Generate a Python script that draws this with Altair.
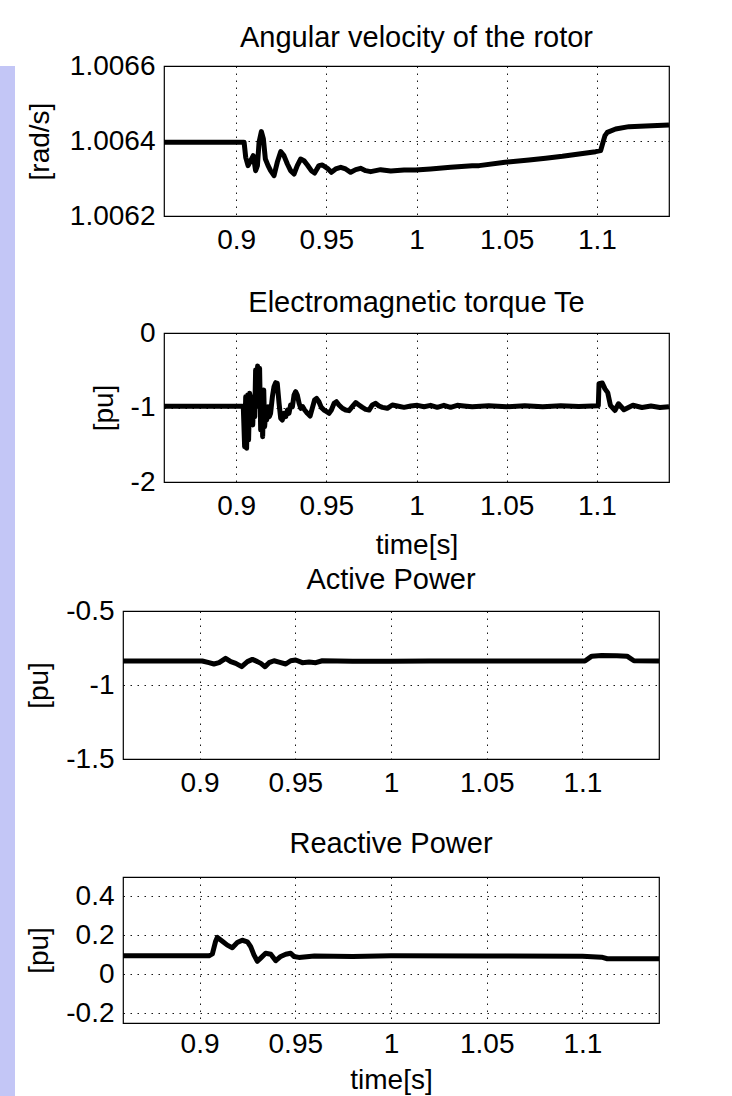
import altair as alt
import pandas as pd

FONT = "Liberation Sans"
LAVENDER = "#c3c6f6"

# ---- shared x axis ----
x_ticks = [0.9, 0.95, 1.0, 1.05, 1.1]
x_domain = [0.86, 1.14]

# ---- Panel 1: angular velocity of the rotor ----
omega_t = [0.86, 0.9044, 0.9053, 0.9066, 0.9081, 0.9095, 0.9108, 0.9118, 0.9127, 0.9140,
           0.9151, 0.9162, 0.9177, 0.9191, 0.9210, 0.9228, 0.9247, 0.9265, 0.9284, 0.9302,
           0.9321, 0.9339, 0.9358, 0.9376, 0.9395, 0.9417, 0.9435, 0.9459, 0.9478, 0.9506,
           0.9528, 0.9552, 0.9580, 0.9607, 0.9635, 0.9663, 0.9690, 0.9718, 0.9746, 0.9801,
           0.9857, 0.9931, 0.9995, 1.0078, 1.0189, 1.0309, 1.0347, 1.0491, 1.0624, 1.0716,
           1.0809, 1.0901, 1.0993, 1.1021, 1.1034, 1.1045, 1.1058, 1.1104, 1.1178, 1.1271, 1.14]
omega_v = [1.006397, 1.006397, 1.0063565, 1.0063343, 1.0063476, 1.0063609, 1.0063209, 1.0063343,
           1.0063965, 1.0064249, 1.0064054, 1.006352, 1.0063343, 1.0063209, 1.0063076, 1.0063431,
           1.0063716, 1.0063609, 1.0063387, 1.0063209, 1.006312, 1.0063343, 1.006352, 1.0063476,
           1.006336, 1.0063209, 1.0063147, 1.0063343, 1.006336, 1.0063271, 1.0063165, 1.0063254,
           1.0063298, 1.0063254, 1.0063165, 1.0063236, 1.0063271, 1.0063209, 1.0063183, 1.0063236,
           1.00632, 1.0063227, 1.0063227, 1.0063254, 1.0063298, 1.0063343, 1.0063343, 1.0063431,
           1.0063494, 1.0063538, 1.0063591, 1.0063654, 1.0063716, 1.0063743, 1.0063965, 1.0064143,
           1.0064231, 1.006432, 1.0064383, 1.00644, 1.0064427]

# ---- Panel 2: electromagnetic torque ----
torque_t = [0.86, 0.9034, 0.9040, 0.9047, 0.9053, 0.9058, 0.9064, 0.9069, 0.9075, 0.9081,
            0.9086, 0.9092, 0.9097, 0.9103, 0.9108, 0.9114, 0.9119, 0.9125, 0.9130, 0.9136,
            0.9142, 0.9147, 0.9153, 0.9158, 0.9164, 0.9169, 0.9177, 0.9184, 0.9191, 0.9201,
            0.9210, 0.9219, 0.9228, 0.9238, 0.9247, 0.9256, 0.9265, 0.9275, 0.9284, 0.9293,
            0.9302, 0.9312, 0.9321, 0.9330, 0.9339, 0.9349, 0.9358, 0.9369, 0.9380, 0.9395,
            0.9410, 0.9422, 0.9435, 0.9446, 0.9459, 0.9472, 0.9487, 0.9502, 0.9515, 0.9528,
            0.9543, 0.9556, 0.9570, 0.9589, 0.9607, 0.9626, 0.9644, 0.9663, 0.9681, 0.9700,
            0.9718, 0.9737, 0.9755, 0.9774, 0.9792, 0.9811, 0.9838, 0.9866, 0.9894, 0.9931,
            0.9968, 1.0005, 1.0042, 1.0078, 1.0115, 1.0152, 1.0189, 1.0226, 1.0263, 1.0309,
            1.04, 1.05, 1.06, 1.07, 1.08, 1.09, 1.1008, 1.1012, 1.103, 1.1045,
            1.106, 1.1075, 1.110, 1.112, 1.115, 1.12, 1.125, 1.13, 1.135, 1.14]
torque_v = [-0.984, -0.984, -1.011, -1.526, -0.855, -1.548, -0.832, -1.436, -0.810, -1.212,
            -0.855, -1.235, -0.899, -1.123, -0.497, -0.944, -0.443, -0.989, -0.474, -1.302,
            -0.855, -1.391, -0.765, -1.257, -1.078, -1.168, -0.989, -1.123, -1.078, -0.855,
            -0.720, -0.667, -0.676, -0.944, -1.145, -1.168, -1.078, -1.123, -1.034, -1.078,
            -0.966, -0.989, -0.832, -0.787, -0.832, -0.944, -1.011, -0.989, -1.034, -1.078,
            -1.114, -1.011, -0.899, -0.877, -0.922, -0.998, -1.034, -1.056, -1.078, -1.034,
            -0.944, -0.922, -0.966, -1.011, -1.034, -1.042, -0.989, -0.935, -0.966, -0.998,
            -1.025, -1.034, -0.966, -0.944, -0.980, -0.998, -1.011, -0.966, -0.980, -0.998,
            -0.980, -0.971, -0.989, -0.971, -0.998, -0.971, -0.998, -0.971, -0.980, -0.989,
            -0.975, -0.990, -0.975, -0.990, -0.975, -0.985, -0.975, -0.680, -0.670, -0.750,
            -0.800, -0.970, -1.040, -0.950, -1.030, -0.970, -1.000, -0.980, -1.000, -0.990]

# ---- Panel 3: active power ----
active_t = [0.86, 0.9014, 0.9049, 0.9075, 0.9102, 0.9136, 0.9163, 0.9189, 0.9220, 0.9250,
            0.9276, 0.9302, 0.9320, 0.9342, 0.9363, 0.9389, 0.9415, 0.9450, 0.9476, 0.9502,
            0.9537, 0.9572, 0.9607, 0.9641, 0.98, 1.0, 1.02, 1.05, 1.08, 1.1013,
            1.1049, 1.11, 1.118, 1.1233, 1.1269, 1.14]
active_v = [-0.838, -0.838, -0.849, -0.858, -0.849, -0.820, -0.842, -0.854, -0.876, -0.842,
            -0.827, -0.842, -0.854, -0.876, -0.849, -0.836, -0.845, -0.858, -0.836, -0.831,
            -0.849, -0.845, -0.849, -0.836, -0.840, -0.840, -0.838, -0.838, -0.838, -0.838,
            -0.805, -0.800, -0.802, -0.805, -0.836, -0.838]

# ---- Panel 4: reactive power ----
reactive_t = [0.86, 0.9049, 0.9067, 0.9084, 0.9093, 0.9119, 0.9145, 0.9171, 0.9197, 0.9223,
              0.9250, 0.9267, 0.9284, 0.9302, 0.9319, 0.9345, 0.9372, 0.9398, 0.9424, 0.9450,
              0.9476, 0.9493, 0.9519, 0.96, 0.98, 1.0, 1.05, 1.10, 1.11, 1.113, 1.14]
reactive_v = [0.095, 0.095, 0.105, 0.170, 0.190, 0.170, 0.150, 0.137, 0.163, 0.175,
              0.167, 0.142, 0.100, 0.067, 0.083, 0.108, 0.103, 0.070, 0.092, 0.103,
              0.108, 0.092, 0.087, 0.094, 0.092, 0.095, 0.094, 0.093, 0.088, 0.080, 0.080]

GRID = dict(grid=True, gridColor="black", gridDash=[1.5, 5.5], gridWidth=1, gridOpacity=0.9)
LABELS = dict(labelExpr="'' + datum.value", ticks=False, domain=False,
              labelFont=FONT, labelFontSize=28, labelColor="black")
TITLES = dict(titleFont=FONT, titleFontSize=28, titleFontWeight="normal", titleColor="black")


def panel(t, v, title, ydomain, yticks, ylabel, width, height, xtitle=None,
          title_offset=1, ytitle_pad=12, xlabel_pad=10, xtitle_pad=11):
    df = pd.DataFrame({"t": t, "v": v})
    if xtitle:
        x_axis = alt.Axis(values=x_ticks, labelPadding=xlabel_pad, title=xtitle,
                          titlePadding=xtitle_pad, **LABELS, **GRID, **TITLES)
    else:
        x_axis = alt.Axis(values=x_ticks, labelPadding=xlabel_pad, title=None, **LABELS, **GRID)
    y_axis = alt.Axis(values=yticks, labelPadding=9, title=ylabel, titlePadding=ytitle_pad,
                      **LABELS, **GRID, **TITLES)
    return alt.Chart(df).mark_line(color="black", strokeWidth=5, strokeJoin="round").encode(
        x=alt.X("t:Q", scale=alt.Scale(domain=x_domain, nice=False, zero=False), axis=x_axis),
        y=alt.Y("v:Q", scale=alt.Scale(domain=ydomain, nice=False, zero=False), axis=y_axis),
    ).properties(
        width=width, height=height,
        title=alt.TitleParams(title, font=FONT, fontSize=29, fontWeight="normal",
                              color="black", offset=title_offset),
        view=alt.ViewBackground(stroke="black", strokeWidth=1.2, fill="white"),
    )


def blank(w, h, fill="transparent"):
    return alt.Chart(pd.DataFrame({"a": [0]})).mark_point(opacity=0, size=1).encode(
        x=alt.X("a:Q", axis=None), y=alt.Y("a:Q", axis=None)
    ).properties(width=w, height=h,
                 view=alt.ViewBackground(fill=fill, stroke="transparent", strokeWidth=0))


p1 = panel(omega_t, omega_v, "Angular velocity of the rotor", [1.0062, 1.0066],
           [1.0062, 1.0064, 1.0066], "[rad/s]", 505, 150, title_offset=-1, ytitle_pad=15)
p2 = panel(torque_t, torque_v, "Electromagnetic torque Te", [-2, 0],
           [-2, -1, 0], "[pu]", 505, 149, xtitle="time[s]", title_offset=1)
p3 = panel(active_t, active_v, "Active Power", [-1.5, -0.5],
           [-1.5, -1, -0.5], "[pu]", 536, 148, title_offset=2)
p4 = panel(reactive_t, reactive_v, "Reactive Power", [-0.25, 0.5],
           [-0.2, 0, 0.2, 0.4], "[pu]", 536, 146, xtitle="time[s]", title_offset=18,
           xlabel_pad=7, xtitle_pad=8)

top_row = alt.hconcat(blank(1, 10), alt.vconcat(p1, p2, spacing=33), spacing=9)
bottom_row = alt.hconcat(blank(1, 10), alt.vconcat(p3, p4, spacing=31), spacing=9)
main = alt.vconcat(top_row, bottom_row, spacing=5)

chart = alt.hconcat(blank(15, 1030, LAVENDER), main, spacing=0).properties(
    padding={"left": 0, "top": 23, "right": 0, "bottom": 0},
    background="white",
)

chart.save("out.html", embed_options={"renderer": "svg", "actions": False})
